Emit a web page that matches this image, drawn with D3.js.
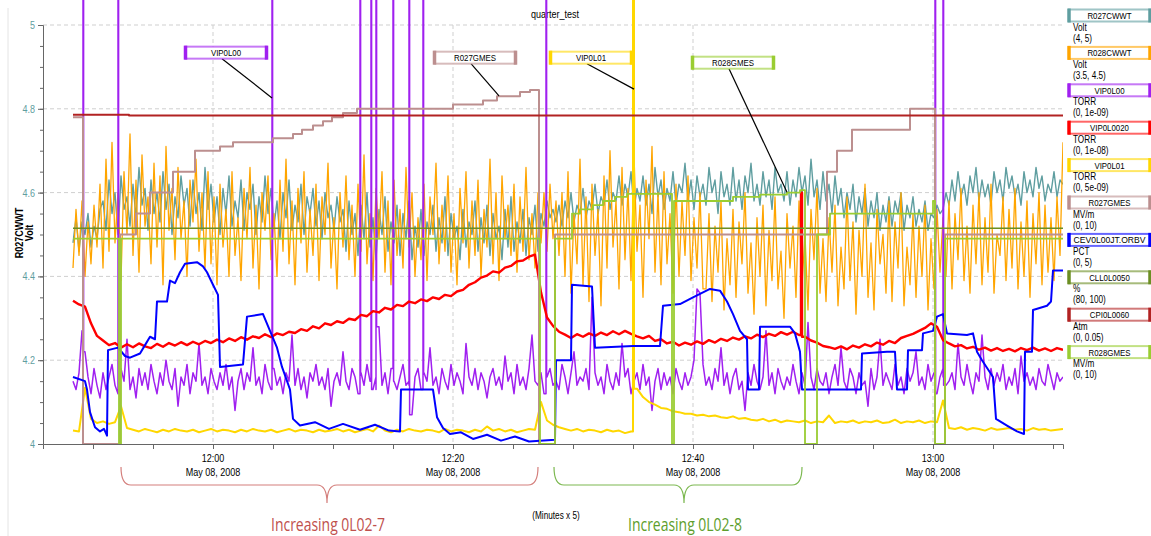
<!DOCTYPE html>
<html>
<head>
<meta charset="utf-8">
<script src="https://cdn.jsdelivr.net/npm/d3@7"></script>
<style>
  body { margin: 0; background: #fff; }
  svg { display: block; font-family: "Liberation Sans", Arial, sans-serif; }
</style>
</head>
<body>
<div id="chart"></div>
<script>
const day = '2008-05-08';
const sampleStart = '11:48:20';

// R027CWWT, Volt, one sample every 15 s
const r027cwwt = [
  4.48, 4.54, 4.46, 4.53, 4.50, 4.55, 4.47, 4.52, 4.49, 4.56,
  4.58, 4.51, 4.63, 4.55, 4.60, 4.50, 4.64, 4.56, 4.59, 4.52,
  4.62, 4.54, 4.66, 4.57, 4.61, 4.51, 4.63, 4.55, 4.60, 4.53,
  4.65, 4.56, 4.62, 4.50, 4.59, 4.54, 4.64, 4.57, 4.61, 4.52,
  4.63, 4.55, 4.60, 4.51, 4.66, 4.56, 4.62, 4.53, 4.59, 4.50,
  4.61, 4.55, 4.64, 4.52, 4.58, 4.54, 4.63, 4.51, 4.60, 4.56,
  4.62, 4.50, 4.59, 4.53, 4.64, 4.55, 4.61, 4.52, 4.58, 4.49,
  4.60, 4.54, 4.63, 4.51, 4.57, 4.53, 4.62, 4.50, 4.59, 4.55,
  4.61, 4.52, 4.58, 4.49, 4.60, 4.54, 4.57, 4.51, 4.59, 4.53,
  4.56, 4.46, 4.58, 4.50, 4.55, 4.45, 4.57, 4.49, 4.60, 4.47,
  4.54, 4.44, 4.56, 4.50, 4.59, 4.46, 4.53, 4.48, 4.57, 4.45,
  4.55, 4.49, 4.58, 4.44, 4.52, 4.47, 4.56, 4.45, 4.53, 4.50,
  4.57, 4.46, 4.54, 4.48, 4.59, 4.45, 4.55, 4.49, 4.52, 4.44,
  4.56, 4.47, 4.53, 4.50, 4.58, 4.46, 4.54, 4.48, 4.57, 4.45,
  4.55, 4.49, 4.52, 4.44, 4.56, 4.47, 4.59, 4.46, 4.53, 4.48,
  4.56, 4.45, 4.54, 4.50, 4.57, 4.46, 4.55, 4.52, 4.58, 4.54,
  4.56, 4.53, 4.57, 4.52, 4.58, 4.54, 4.60, 4.53, 4.57, 4.55,
  4.61, 4.54, 4.58, 4.56, 4.62, 4.55, 4.59, 4.57, 4.63, 4.56,
  4.60, 4.58, 4.64, 4.57, 4.62, 4.59, 4.65, 4.56, 4.61, 4.58,
  4.64, 4.57, 4.62, 4.55, 4.66, 4.59, 4.63, 4.56, 4.61, 4.58,
  4.65, 4.57, 4.62, 4.60, 4.67, 4.58, 4.63, 4.56, 4.64, 4.59,
  4.62, 4.57, 4.66, 4.60, 4.63, 4.55, 4.65, 4.59, 4.62, 4.57,
  4.66, 4.58, 4.63, 4.56, 4.64, 4.60, 4.67, 4.58, 4.62, 4.57,
  4.65, 4.59, 4.63, 4.56, 4.66, 4.60, 4.62, 4.58, 4.65, 4.57,
  4.63, 4.59, 4.66, 4.60, 4.64, 4.57, 4.68, 4.59, 4.63, 4.56,
  4.65, 4.58, 4.62, 4.55, 4.64, 4.57, 4.61, 4.54, 4.60, 4.56,
  4.62, 4.53, 4.59, 4.55, 4.61, 4.52, 4.58, 4.54, 4.60, 4.51,
  4.57, 4.53, 4.59, 4.52, 4.58, 4.55, 4.60, 4.51, 4.57, 4.54,
  4.59, 4.52, 4.56, 4.53, 4.58, 4.51, 4.55, 4.54, 4.57, 4.55,
  4.56, 4.60, 4.57, 4.63, 4.58, 4.65, 4.59, 4.62, 4.57, 4.64,
  4.60, 4.66, 4.58, 4.63, 4.59, 4.62, 4.57, 4.65, 4.60, 4.63,
  4.58, 4.66, 4.61, 4.64, 4.59, 4.62, 4.57, 4.65, 4.60, 4.63,
  4.59, 4.66, 4.61, 4.64, 4.58, 4.62, 4.60, 4.65, 4.59, 4.63,
  4.62
];

// R028CWWT, Volt, one sample every 15 s
const r028cwwt = [
  3.92, 4.06, 3.95, 4.08, 3.90, 4.03, 3.93, 4.07, 3.97,
  4.12, 3.92, 4.18, 3.96, 4.22, 3.98, 4.10, 3.89, 4.15, 4.00,
  4.24, 3.95, 4.13, 3.91, 4.19, 4.02, 4.09, 3.93, 4.17, 3.97,
  4.14, 3.88, 4.21, 4.01, 4.11, 3.94, 4.16, 3.99, 4.08, 3.90,
  4.13, 4.03, 4.18, 3.96, 4.10, 3.92, 4.15,
  3.93, 4.09, 3.88, 4.12, 3.97, 4.06, 3.90, 4.15, 3.95, 4.04,
  3.89, 4.11, 3.99, 4.16, 3.92, 4.07, 3.87, 4.10, 4.01, 4.14,
  3.94, 4.05, 3.90, 4.13, 3.96, 4.18, 3.93, 4.08, 3.88, 4.11,
  3.98, 4.15, 3.91, 4.06, 3.95, 4.12, 3.89, 4.09, 4.00, 4.17,
  3.92, 4.04, 3.87, 4.10, 3.97, 4.14, 3.94, 4.07, 3.90, 4.12,
  3.96, 4.19, 3.93, 4.05, 3.89, 4.11, 3.99, 4.15, 3.91, 4.08,
  3.88, 4.13, 3.95, 4.06, 3.92, 4.16, 3.97, 4.10, 3.90, 4.04,
  3.94, 4.12, 3.89, 4.09, 4.00, 4.17, 3.93, 4.07, 3.96, 4.14,
  3.91, 4.05, 3.88, 4.11, 3.98, 4.15, 3.92, 4.08, 3.95, 4.13,
  3.90, 4.06, 3.97, 4.18, 3.93, 4.10, 3.89, 4.14, 3.99, 4.07,
  3.95, 4.12, 3.91, 4.09, 3.96, 4.16, 3.94, 4.05, 3.92, 4.10,
  3.98, 4.10, 3.96, 4.12, 3.99, 4.08, 3.95,
  4.10, 3.90, 4.15, 3.86, 4.05, 3.93, 4.18, 3.88, 4.09, 3.84,
  4.12, 3.95, 4.06, 3.83, 4.14, 3.92, 4.20, 3.97, 4.08, 3.87,
  4.16, 3.94, 4.11, 3.89, 4.19, 3.96, 4.07, 3.85, 4.13, 3.99,
  4.21, 3.91, 4.10, 3.88, 4.15, 3.93, 4.05, 3.86, 4.12, 3.90,
  4.08, 3.95, 4.14, 3.89, 4.04, 3.92, 4.10, 3.87,
  3.87, 4.05, 3.84, 4.02, 3.91, 4.08, 3.82, 3.99, 3.88, 4.06,
  3.85, 4.03, 3.93, 4.10, 3.86, 3.98, 3.81, 4.04, 3.90, 4.07,
  3.83, 4.01, 3.89, 4.09, 3.87, 3.96, 3.80, 4.05, 3.92, 4.02,
  3.85, 4.08, 3.88, 4.00, 3.82, 4.06, 3.94, 4.11, 3.86, 3.99,
  3.84, 4.04, 3.91, 4.07, 3.83, 3.97, 3.87, 4.09, 3.89, 4.03,
  3.81, 4.01, 3.90, 4.12, 3.85, 3.98, 3.82, 4.06, 3.93, 4.00,
  3.86, 4.08, 3.84, 4.03, 3.92, 4.10, 3.83, 3.97, 3.88, 4.05,
  3.85, 4.02, 3.90, 4.07, 3.82, 3.99, 3.87, 4.06, 3.91, 4.04,
  3.90, 4.08, 3.87, 4.05, 3.94, 4.11, 3.89, 4.02, 3.86, 4.07,
  3.93, 4.10, 3.88, 4.04, 3.91, 4.12, 3.86, 4.00, 3.95, 4.09,
  3.89, 4.06, 3.92, 4.11, 3.87, 4.03, 3.90, 4.08, 3.85, 4.05,
  3.93, 4.10, 3.88, 4.07, 3.91, 4.04, 3.89, 4.09, 3.95, 4.22
];

// VIP0L00, TORR x 1e-10, one sample every 15 s, plus bursts that leave the top
const vip0l00 = [
  1.5, 1.3, 1.7, 2.7, 2.2, 1.6, 1.2, 1.8, 1.4, 1.1,
  1.7, 1.3, 1.6, 1.9, 1.4, 1.2, 1.8, 1.5, 2.5, 1.3,
  1.6, 1.1, 1.8, 1.4, 1.7, 1.3, 1.9, 1.5, 1.2, 1.7,
  1.4, 2.0, 1.5, 1.3, 1.8, 0.9, 1.6, 1.4, 1.9, 1.2,
  1.7, 1.5, 2.4, 1.4, 1.6, 1.2, 1.8, 1.5, 1.3, 1.7,
  1.4, 1.9, 1.3, 1.6, 0.8, 1.5, 1.8, 1.3, 1.7, 1.5,
  2.3, 1.4, 1.6, 1.2, 1.9, 1.5, 1.3, 1.8, 1.4, 1.6,
  1.2, 1.7, 1.5, 2.6, 1.4, 1.8, 1.3, 1.6, 1.1, 1.7,
  1.5, 1.9, 1.4, 1.6, 1.3, 1.8, 0.9, 1.5, 1.7, 1.4,
  2.2, 1.5, 1.3, 1.8, 1.6, 1.2, 1.7, 1.4, 1.9, 1.5,
  1.3, 1.6, 2.8, 1.4, 1.7, 1.2, 1.8, 1.5, 1.3, 1.6,
  1.9, 1.4, 1.5, 0.7, 1.6, 1.8, 1.3, 1.7, 1.5, 2.3,
  1.4, 1.6, 1.2, 1.8, 1.5, 1.3, 1.9, 1.4, 1.7, 1.5,
  1.2, 2.4, 1.6, 1.4, 1.8, 1.3, 1.7, 1.5, 1.1, 1.6,
  1.8, 1.4, 1.6, 1.3, 2.1, 1.5, 1.7, 1.2, 1.9, 1.4,
  1.6, 1.3, 1.8, 2.6, 1.5, 1.4, 1.7, 1.2, 1.6, 1.8,
  1.4, 1.5, 1.3, 1.9, 1.6, 1.2, 1.7, 2.2, 1.4, 1.6,
  1.5, 1.8, 1.3, 3.5, 1.7, 1.4, 1.6, 1.2, 1.9, 1.5,
  1.3, 1.7, 1.4, 2.4, 1.6, 1.8, 1.2, 1.5, 1.7, 1.3,
  1.9, 1.4, 1.6, 0.8, 1.5, 1.8, 1.3, 1.7, 1.4, 1.6,
  1.2, 1.8, 1.5, 1.3, 1.7, 1.4, 1.6, 2.0, 3.7, 3.6,
  1.9, 1.4, 1.6, 1.3, 1.8, 1.5, 2.3, 1.4, 1.7, 1.2,
  1.6, 1.8, 1.3, 1.5, 0.8, 1.7, 1.4, 1.9, 1.5, 1.3,
  1.6, 2.7, 1.4, 1.7, 1.2, 1.8, 1.5, 1.3, 1.6, 1.4,
  1.9, 1.5, 1.2, 1.7, 1.4, 2.9, 1.6, 1.3, 1.8, 1.5,
  1.4, 1.7, 1.2, 1.6, 1.9, 1.4, 2.3, 1.5, 1.3, 1.8,
  1.6, 1.2, 1.7, 1.4, 1.5, 0.9, 1.8, 1.3, 1.6, 2.5,
  1.4, 1.7, 1.5, 1.3, 1.9, 1.4, 1.6, 1.2, 1.8, 1.5,
  1.7, 2.2, 1.4, 1.6, 1.3, 1.9, 1.5, 1.7, 1.2, 1.6,
  1.8, 1.4, 1.5, 1.7, 1.3, 2.4, 1.6, 1.4, 1.9, 1.5,
  1.2, 1.7, 1.5, 2.6, 1.6, 1.3, 1.8, 1.4, 1.7, 1.5,
  1.9, 1.3, 1.6, 1.4, 1.8, 1.2, 2.1, 1.5, 1.7, 1.4,
  1.6, 1.3, 1.8, 1.5, 1.4, 1.9, 1.6, 1.3, 1.7, 1.5,
  1.6
];
const vip0l00Bursts = [
  ['11:49:10', 12], ['11:52:05', 12], ['12:04:55', 12], ['12:12:15', 12], ['12:13:10', 12],
  ['12:13:35', 12], ['12:15:00', 12], ['12:16:20', 12], ['12:17:30', 12], ['12:27:45', 12],
  ['13:00:10', 12], ['13:00:50', 12]
];

// VIP0L0020, TORR x 1e-9, one sample every 30 s
const vip0l0020 = [
  3.42, 3.33, 3.28, 2.88, 2.58, 2.47, 2.36, 2.41, 2.30, 2.38,
  2.31, 2.40, 2.33, 2.29, 2.39, 2.32, 2.41, 2.35, 2.43, 2.36,
  2.44, 2.38, 2.46, 2.41, 2.49, 2.43, 2.52, 2.46, 2.55, 2.49,
  2.57, 2.53, 2.62, 2.55, 2.64, 2.60, 2.68, 2.65, 2.74, 2.70,
  2.81, 2.76, 2.88, 2.84, 2.93, 2.89, 2.99, 2.96, 3.08, 3.05,
  3.17, 3.14, 3.25, 3.21, 3.32, 3.29, 3.40, 3.36, 3.45, 3.41,
  3.50, 3.46, 3.56, 3.53, 3.64, 3.68, 3.80, 3.86, 3.97, 4.02,
  4.12, 4.09, 4.21, 4.25, 4.36, 4.38, 4.47, 4.52, 3.62, 3.02,
  2.82, 2.68, 2.61, 2.53, 2.62, 2.56, 2.64, 2.58, 2.66, 2.60,
  2.69, 2.62, 2.70, 2.63, 2.57, 2.52, 2.58, 2.46, 2.50, 2.40,
  2.44, 2.35, 2.42, 2.37, 2.45, 2.39, 2.48, 2.42, 2.51, 2.46,
  2.54, 2.49, 2.57, 2.52, 2.61, 2.55, 2.63, 2.58, 2.67, 2.61,
  2.68, 2.60, 2.56, 2.47, 2.42, 2.34, 2.31, 2.27, 2.33, 2.26,
  2.35, 2.30, 2.38, 2.33, 2.42, 2.37, 2.46, 2.41, 2.53, 2.58,
  2.63, 2.70, 2.77, 2.88, 2.80, 2.48, 2.40, 2.33, 2.36, 2.28,
  2.32, 2.25, 2.30, 2.23, 2.29, 2.22, 2.27, 2.21, 2.29, 2.24,
  2.30, 2.23, 2.28, 2.22, 2.29, 2.25
];
const vip0l0020Bursts = [['12:49:00', 6.0]];

// VIP0L01, TORR x 1e-9, one sample every 30 s
const vip0l01 = [
  0.16, 0.15, 0.67, 0.30, 0.25, 0.27, 0.24, 0.26, 0.45, 0.19,
  0.17, 0.15, 0.18, 0.16, 0.14, 0.17, 0.15, 0.18, 0.16, 0.15,
  0.17, 0.14, 0.16, 0.18, 0.15, 0.17, 0.16, 0.14, 0.17, 0.15,
  0.18, 0.16, 0.15, 0.17, 0.14, 0.16, 0.18, 0.15, 0.17, 0.16,
  0.14, 0.17, 0.15, 0.16, 0.18, 0.15, 0.17, 0.14, 0.16, 0.18,
  0.15, 0.22, 0.16, 0.14, 0.17, 0.15, 0.18, 0.16, 0.15, 0.17,
  0.16, 0.14, 0.18, 0.15, 0.17, 0.16, 0.14, 0.17, 0.15, 0.21,
  0.16, 0.18, 0.15, 0.17, 0.14, 0.16, 0.18, 0.17,
  0.50, 0.28, 0.23, 0.20, 0.18, 0.16, 0.18, 0.15, 0.17, 0.16,
  0.14, 0.17, 0.15, 0.16, 0.13, 0.15,
  0.66, 0.56, 0.50, 0.47, 0.43, 0.42, 0.39, 0.38, 0.36, 0.36,
  0.34, 0.35, 0.33, 0.34, 0.32, 0.31, 0.33, 0.30, 0.31, 0.29,
  0.28, 0.30, 0.27, 0.29, 0.26, 0.28, 0.27, 0.26, 0.28, 0.25,
  0.27, 0.26, 0.34, 0.25, 0.27, 0.26, 0.28, 0.25, 0.27, 0.26,
  0.28, 0.25, 0.26, 0.29, 0.25, 0.27, 0.26, 0.28, 0.25, 0.27, 0.26,
  0.52,
  0.19, 0.18, 0.20, 0.17, 0.19, 0.18, 0.16, 0.19, 0.17, 0.18,
  0.19, 0.17, 0.18, 0.16, 0.19, 0.17, 0.18, 0.16, 0.17, 0.18
];
const vip0l01Bursts = [['12:35:00', 6]];

// R027GMES, MV/m, value from each time on
const r027gmes = [
  ['11:48:20', 7.8], ['11:49:10', 0], ['11:52:15', 5.0], ['11:53:35', 5.5], ['11:54:45', 6.0],
  ['11:56:40', 6.5], ['11:58:30', 7.0], ['12:00:35', 7.1], ['12:01:40', 7.2], ['12:05:00', 7.3],
  ['12:06:40', 7.4], ['12:07:25', 7.5], ['12:08:20', 7.6], ['12:09:10', 7.7], ['12:09:55', 7.8],
  ['12:10:50', 7.9], ['12:12:00', 8.0], ['12:20:00', 8.1], ['12:22:30', 8.2], ['12:23:40', 8.3],
  ['12:25:35', 8.4], ['12:26:25', 8.45], ['12:27:10', 0], ['12:28:30', 5.0], ['12:51:10', 6.5],
  ['12:52:00', 7.0], ['12:53:15', 7.5], ['12:58:05', 8.0], ['13:00:10', 0], ['13:01:00', 5.0],
  ['13:10:50', 5.0]
];

// CEV0L00JT.ORBV, PCT
const cev0l00jt = [
  ['11:48:20', 0.80], ['11:49:20', 0.75], ['11:49:30', 0.65], ['11:49:45', 0.38], ['11:50:10', 0.20],
  ['11:50:35', 0.15], ['11:50:55', 0.18], ['11:51:10', 0.10], ['11:51:15', 1.12], ['11:52:05', 1.15],
  ['11:52:40', 1.05], ['11:53:05', 1.03], ['11:53:55', 1.08], ['11:54:20', 1.18], ['11:54:45', 1.28],
  ['11:55:10', 1.25], ['11:55:20', 1.70], ['11:56:10', 1.70], ['11:56:25', 1.95], ['11:56:50', 1.92],
  ['11:57:15', 2.05], ['11:57:40', 2.15], ['11:58:40', 2.17], ['11:59:10', 2.12], ['11:59:30', 2.05],
  ['12:00:00', 1.90], ['12:00:25', 1.78], ['12:00:35', 0.92], ['12:02:30', 0.95], ['12:02:50', 1.52],
  ['12:04:10', 1.55], ['12:04:45', 1.35], ['12:05:20', 1.15], ['12:05:45', 0.92], ['12:06:25', 0.65],
  ['12:06:40', 0.30], ['12:07:15', 0.22], ['12:08:30', 0.26], ['12:09:40', 0.18], ['12:10:50', 0.24],
  ['12:12:15', 0.17], ['12:13:30', 0.23], ['12:14:40', 0.16], ['12:15:35', 0.15], ['12:15:40', 0.65],
  ['12:18:20', 0.65], ['12:18:40', 0.32], ['12:19:10', 0.19], ['12:19:45', 0.12], ['12:20:40', 0.14],
  ['12:21:40', 0.06], ['12:22:50', 0.11], ['12:24:00', 0.04], ['12:25:10', 0.09], ['12:26:20', 0.03],
  ['12:27:15', 0.04], ['12:28:30', 0.05], ['12:28:35', 1.00], ['12:29:50', 1.00], ['12:29:55', 1.90],
  ['12:31:35', 1.88], ['12:31:50', 1.15], ['12:35:00', 1.17], ['12:37:15', 1.17], ['12:37:30', 1.65],
  ['12:38:55', 1.67], ['12:40:00', 1.75], ['12:41:25', 1.85], ['12:42:15', 1.83], ['12:42:50', 1.70],
  ['12:43:20', 1.55], ['12:43:55', 1.35], ['12:44:30', 1.25], ['12:44:35', 0.65], ['12:45:30', 0.65],
  ['12:45:35', 1.40], ['12:48:05', 1.40], ['12:48:30', 1.32], ['12:48:55', 1.10], ['12:49:05', 0.65],
  ['12:54:00', 0.65], ['12:54:05', 1.08], ['12:56:10', 1.10], ['12:56:50', 1.10], ['12:57:00', 0.65],
  ['12:57:50', 0.65], ['12:57:55', 1.12], ['12:59:05', 1.12], ['12:59:10', 1.32], ['13:00:00', 1.35],
  ['13:00:20', 1.52], ['13:00:50', 1.55], ['13:01:10', 1.32], ['13:02:50', 1.30], ['13:03:20', 1.32],
  ['13:03:40', 1.10], ['13:04:05', 1.00], ['13:05:00', 0.80], ['13:05:15', 0.30], ['13:06:10', 0.22],
  ['13:07:00', 0.15], ['13:07:35', 0.12], ['13:07:40', 1.10], ['13:08:15', 1.10], ['13:08:20', 1.60],
  ['13:09:30', 1.65], ['13:09:50', 1.70], ['13:10:00', 2.07], ['13:10:50', 2.07]
];

// CLL0L0050, %
const cll0l0050 = [['11:48:20', 90.3], ['13:10:50', 90.3]];
// CPI0L0060, Atm
const cpi0l0060 = [['11:48:20', 0.0393], ['11:53:00', 0.0392], ['13:10:50', 0.0392]];

// R028GMES, MV/m, value from each time on
const r028gmes = [
  ['11:48:20', 4.9], ['11:52:10', 0], ['11:52:20', 4.9], ['12:27:15', 0], ['12:28:30', 4.9],
  ['12:29:55', 5.5], ['12:30:35', 5.6], ['12:31:40', 5.7], ['12:32:30', 5.8], ['12:33:30', 5.9],
  ['12:34:30', 5.97], ['12:38:15', 0], ['12:38:25', 5.8], ['12:43:20', 5.9], ['12:45:35', 5.95],
  ['12:47:50', 6.0], ['12:48:55', 6.06], ['12:49:20', 0], ['12:50:20', 5.0], ['12:51:25', 5.5],
  ['13:00:00', 5.8], ['13:00:10', 0], ['13:01:00', 4.9], ['13:10:50', 4.9]
];

const legendNames = ['R027CWWT', 'R028CWWT', 'VIP0L00', 'VIP0L0020', 'VIP0L01',
  'R027GMES', 'CEV0L00JT.ORBV', 'CLL0L0050', 'CPI0L0060', 'R028GMES'];
const legendUnits = ['Volt', 'Volt', 'TORR', 'TORR', 'TORR', 'MV/m', 'PCT', '%', 'Atm', 'MV/m'];
const legendRanges = [[4, 5], [3.5, 4.5], [0, 1e-9], [0, 1e-8], [0, 5e-9],
  [0, 10], [0, 5], [80, 100], [0, 0.05], [0, 10]];
const legendRangeLabels = ['(4, 5)', '(3.5, 4.5)', '(0, 1e-09)', '(0, 1e-08)', '(0, 5e-09)',
  '(0, 10)', '(0, 5)', '(80, 100)', '(0, 0.05)', '(0, 10)'];
const legendColors = ['#5f9ea0', '#ffa500', '#a020f0', '#ff0000', '#ffd700',
  '#bc8f8f', '#0000ff', '#6b8e23', '#b22222', '#9acd32'];

const yTicks = [4, 4.2, 4.4, 4.6, 4.8, 5];

const callouts = [
  { name: 'VIP0L00', color: '#a020f0', box: ['12:01:05', 4.934], tip: ['12:04:55', 4.826] },
  { name: 'R027GMES', color: '#bc8f8f', box: ['12:21:50', 4.922], tip: ['12:23:50', 4.831] },
  { name: 'VIP0L01', color: '#ffd700', box: ['12:31:30', 4.922], tip: ['12:35:05', 4.847] },
  { name: 'R028GMES', color: '#9acd32', box: ['12:43:20', 4.910], tip: ['12:47:50', 4.601] }
];
const braces = [
  { from: '11:52:20', to: '12:27:05', mid: '12:09:30', label: 'Increasing 0L02-7', color: '#c0504d', stroke: '#d47f7c' },
  { from: '12:28:25', to: '12:49:05', mid: '12:39:15', label: 'Increasing 0L02-8', color: '#5e9e2c', stroke: '#7cb850' }
];

const W = 1151, H = 536;
const margin = { top: 25, left: 43, right: 1063, bottom: 444 };

const parse = d3.timeParse('%Y-%m-%d %H:%M:%S');
const at = s => parse(`${day} ${s}`);
const t0 = at(sampleStart);
const sampled = (values, step) => values.map((v, i) => [d3.timeSecond.offset(t0, i * step), v]);
const listed = pairs => pairs.map(([s, v]) => [at(s), v]);
const byTime = pts => pts.sort((a, b) => a[0] - b[0]);
const bisect = d3.bisector(d => d[0]).left;

// a burst jumps straight up from the trace and straight back down
function withBursts(points, list, seconds) {
  const out = points.slice();
  list.forEach(([s, top]) => {
    const t1 = at(s), t2 = d3.timeSecond.offset(t1, seconds);
    const before = points[Math.max(0, bisect(points, t1) - 1)][1];
    const after = points[Math.min(points.length - 1, bisect(points, t2))][1];
    out.push([t1, before], [t1, top], [t2, top], [t2, after]);
  });
  return byTime(out);
}

const x = d3.scaleTime()
  .domain([at('11:45:50'), at('13:10:50')])
  .range([margin.left, margin.right]);
const y = d3.scaleLinear().domain([4, 5]).range([margin.bottom, margin.top]);

const series = [
  { points: sampled(r027cwwt, 15), unit: 1, width: 1.4 },
  { points: sampled(r028cwwt, 15), unit: 1, width: 1.3 },
  { points: withBursts(sampled(vip0l00, 15), vip0l00Bursts, 3), unit: 1e-10, width: 1.5 },
  { points: withBursts(sampled(vip0l0020, 30), vip0l0020Bursts, 5), unit: 1e-9, width: 2.4 },
  { points: withBursts(sampled(vip0l01, 30), vip0l01Bursts, 5), unit: 1e-9, width: 2 },
  { points: listed(r027gmes), unit: 1, width: 2, step: true },
  { points: listed(cev0l00jt), unit: 1, width: 2 },
  { points: listed(cll0l0050), unit: 1, width: 1.5, step: true },
  { points: listed(cpi0l0060), unit: 1, width: 2, step: true },
  { points: listed(r028gmes), unit: 1, width: 1.8, step: true }
];

const svg = d3.select('#chart').append('svg')
  .attr('width', W)
  .attr('height', H);

svg.append('line')
  .attr('x1', 8).attr('x2', 8).attr('y1', 8).attr('y2', H)
  .attr('stroke', '#e4e4e4');

// title
svg.append('text')
  .attr('x', 555).attr('y', 18)
  .attr('text-anchor', 'middle')
  .attr('font-size', 11)
  .text('quarter_test');

// grid
const grid = svg.append('g').attr('stroke', '#cfcfcf').attr('stroke-dasharray', '4,3');
grid.selectAll('.hg')
  .data(yTicks.filter(d => d > 4))
  .enter().append('line')
  .attr('x1', margin.left).attr('x2', margin.right)
  .attr('y1', d => y(d)).attr('y2', d => y(d));
grid.selectAll('.vg')
  .data(x.ticks(d3.timeMinute.every(20)))
  .enter().append('line')
  .attr('x1', d => x(d)).attr('x2', d => x(d))
  .attr('y1', margin.top).attr('y2', margin.bottom);

// series
svg.append('clipPath').attr('id', 'plot')
  .append('rect')
  .attr('x', margin.left).attr('y', 0)
  .attr('width', margin.right - margin.left).attr('height', margin.bottom + 1);

const lines = svg.append('g').attr('clip-path', 'url(#plot)');
series.forEach((s, i) => {
  const sy = d3.scaleLinear().domain(legendRanges[i]).range([margin.bottom, margin.top]);
  const line = d3.line()
    .x(d => x(d[0]))
    .y(d => sy(d[1] * s.unit))
    .curve(s.step ? d3.curveStepAfter : d3.curveLinear);
  lines.append('path')
    .datum(s.points)
    .attr('fill', 'none')
    .attr('stroke', legendColors[i])
    .attr('stroke-width', s.width)
    .attr('stroke-linejoin', 'round')
    .attr('d', line);
});

// axes
const yAxis = svg.append('g')
  .attr('transform', `translate(${margin.left},0)`)
  .call(d3.axisLeft(y).tickValues(yTicks).tickFormat(d3.format('~g')).tickSize(5).tickPadding(3));
yAxis.select('.domain').attr('stroke', '#666');
yAxis.selectAll('.tick line').attr('stroke', '#666');
yAxis.selectAll('.tick text').attr('fill', '#5f9ea0').attr('font-size', 11)
  .attr('font-family', null);

svg.append('g')
  .attr('transform', `translate(${margin.left},0)`)
  .call(d3.axisLeft(y).tickValues(d3.range(4.05, 5, 0.05)).tickFormat('').tickSize(3))
  .call(g => g.select('.domain').remove())
  .selectAll('.tick line').attr('stroke', '#666');

const xAxis = svg.append('g')
  .attr('transform', `translate(0,${margin.bottom})`)
  .call(d3.axisBottom(x).ticks(d3.timeMinute.every(5)).tickFormat('').tickSize(5));
xAxis.select('.domain').attr('stroke', '#666');
xAxis.selectAll('.tick line').attr('stroke', '#666');

const fmtTime = d3.timeFormat('%H:%M');
const fmtDay = d3.timeFormat('%b %d, %Y');
const xLabels = svg.append('g')
  .attr('font-size', 11)
  .attr('text-anchor', 'middle');
xLabels.selectAll('text')
  .data(x.ticks(d3.timeMinute.every(20)))
  .enter().append('text')
  .attr('x', d => x(d))
  .attr('y', margin.bottom + 18)
  .call(t => t.append('tspan').text(fmtTime))
  .call(t => t.append('tspan').attr('x', d => x(d)).attr('dy', 14).text(fmtDay));

svg.append('text')
  .attr('transform', 'translate(23,233) rotate(-90)')
  .attr('text-anchor', 'middle')
  .attr('font-size', 11)
  .attr('font-weight', 'bold')
  .text('R027CWWT');
svg.append('text')
  .attr('transform', 'translate(33,233) rotate(-90)')
  .attr('text-anchor', 'middle')
  .attr('font-size', 11)
  .attr('font-weight', 'bold')
  .text('Volt');

svg.append('text')
  .attr('x', 556).attr('y', 519)
  .attr('text-anchor', 'middle')
  .attr('font-size', 10)
  .text('(Minutes x 5)');

// boxed tag used by the callouts and the legend
function tag(g, cx, cy, name, color) {
  const w = 81, h = 12;
  g.append('rect')
    .attr('x', cx - w / 2).attr('y', cy - h / 2)
    .attr('width', w).attr('height', h)
    .attr('fill', '#fff')
    .attr('stroke', color).attr('stroke-opacity', 0.6).attr('stroke-width', 2);
  [cx - w / 2, cx + w / 2].forEach(px => {
    g.append('line')
      .attr('x1', px).attr('x2', px)
      .attr('y1', cy - h / 2 - 1).attr('y2', cy + h / 2 + 1)
      .attr('stroke', color).attr('stroke-width', 3.5);
  });
  const label = g.append('text')
    .attr('x', cx).attr('y', cy + 3.5)
    .attr('text-anchor', 'middle')
    .attr('font-size', 9.6)
    .text(name);
  // a long name is set smaller so it stays inside the box
  const room = w - 9;
  const len = label.node().getComputedTextLength();
  if (len * 0.82 > room * 0.9) {
    label.attr('font-size', 9.6 * room / len)
      .attr('textLength', room)
      .attr('lengthAdjust', 'spacingAndGlyphs');
  }
}

// callouts
const notes = svg.append('g');
callouts.forEach(c => {
  const bx = x(at(c.box[0])), by = y(c.box[1]);
  notes.append('line')
    .attr('x1', bx - 4).attr('y1', by + 6)
    .attr('x2', x(at(c.tip[0]))).attr('y2', y(c.tip[1]))
    .attr('stroke', '#000').attr('stroke-width', 1.2);
  tag(notes, bx, by, c.name, c.color);
});

// braces under the time axis
braces.forEach(b => {
  const x0 = x(at(b.from)), x1 = x(at(b.to)), xm = x(at(b.mid));
  const top = 467, mid = 485, tip = 503;
  svg.append('path')
    .attr('d', `M${x0},${top} Q${x0},${mid} ${x0 + 10},${mid} L${xm - 10},${mid} Q${xm},${mid} ${xm},${tip}` +
      ` Q${xm},${mid} ${xm + 10},${mid} L${x1 - 10},${mid} Q${x1},${mid} ${x1},${top}`)
    .attr('fill', 'none')
    .attr('stroke', b.stroke)
    .attr('stroke-width', 1.2);
  svg.append('text')
    .attr('x', xm + 1).attr('y', 531)
    .attr('text-anchor', 'middle')
    .attr('font-family', '"Open Sans", sans-serif')
    .attr('font-size', 19)
    .attr('textLength', 114)
    .attr('lengthAdjust', 'spacingAndGlyphs')
    .attr('fill', b.color)
    .text(b.label);
});

// legend
const legend = svg.append('g');
legendNames.forEach((name, i) => {
  const cy = 15.5 + i * 37.4;
  tag(legend, 1109.5, cy, name, legendColors[i]);
  legend.append('text')
    .attr('x', 1073).attr('y', cy + 15)
    .attr('font-size', 10)
    .text(legendUnits[i]);
  legend.append('text')
    .attr('x', 1073).attr('y', cy + 26)
    .attr('font-size', 10)
    .text(legendRangeLabels[i]);
});

// the chart's lettering is a narrow face: squeeze each run of text
svg.selectAll('text').each(function () {
  if (this.hasAttribute('textLength')) return;
  const spans = this.querySelectorAll('tspan');
  const runs = spans.length ? Array.from(spans) : [this];
  runs.forEach(n => {
    n.setAttribute('textLength', (n.getComputedTextLength() * 0.82).toFixed(1));
    n.setAttribute('lengthAdjust', 'spacingAndGlyphs');
  });
});
</script>
</body>
</html>
